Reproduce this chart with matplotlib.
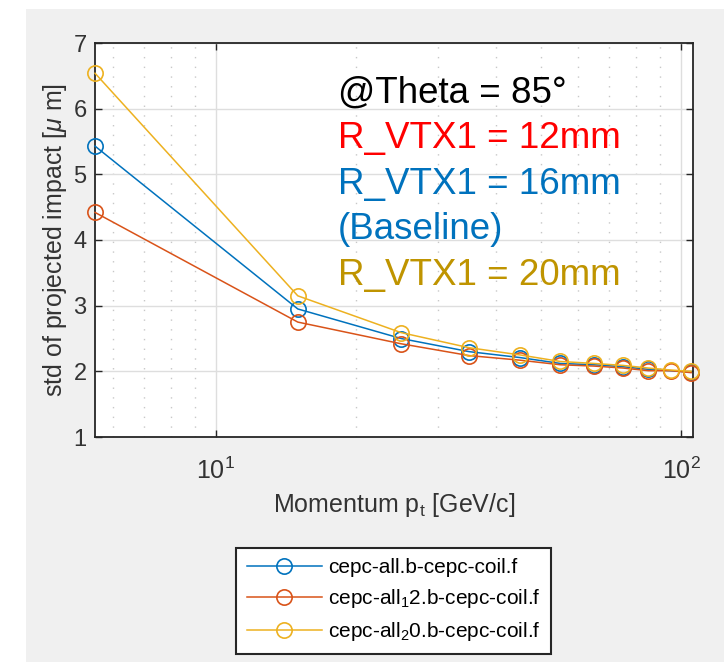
import numpy as np
import matplotlib.pyplot as plt
from matplotlib.patches import Rectangle

plt.rcParams['font.family'] = ['Liberation Sans', 'DejaVu Sans']
plt.rcParams['mathtext.fontset'] = 'custom'
plt.rcParams['mathtext.rm'] = 'Liberation Sans'
plt.rcParams['mathtext.it'] = 'Liberation Sans:italic'
plt.rcParams['mathtext.bf'] = 'Liberation Sans:bold'

# transverse momentum points [GeV/c]
p_t = [5.5, 15, 25, 35, 45, 55, 65, 75, 85, 95, 105]
p_t_16mm = [5.5, 15, 25, 35, 45, 55, 65, 75, 85, 105]

# std of projected impact [um] for each inner vertex radius
std_16mm = [5.43, 2.95, 2.50, 2.30, 2.21, 2.12, 2.10, 2.07, 2.03, 1.99]
std_12mm = [4.42, 2.75, 2.42, 2.24, 2.17, 2.10, 2.08, 2.05, 2.01, 2.01, 1.98]
std_20mm = [6.54, 3.15, 2.59, 2.36, 2.25, 2.15, 2.12, 2.09, 2.05, 2.02, 2.00]

labels = ["cepc-all.b-cepc-coil.f",
          r"cepc-all$_{\mathregular{1}}$2.b-cepc-coil.f",
          r"cepc-all$_{\mathregular{2}}$0.b-cepc-coil.f"]

annotations = [("@Theta = 85°", "black"),
               ("R_VTX1 = 12mm", "#ff0000"),
               ("R_VTX1 = 16mm", "#0072bd"),
               ("(Baseline)", "#0072bd"),
               ("R_VTX1 = 20mm", "#bf9400")]

W, H = 724, 662
fig = plt.figure(figsize=(W / 100, H / 100), dpi=100, facecolor="white")
fig.patches.append(Rectangle((26 / W, 0), 1, 1 - 9 / H, transform=fig.transFigure,
                             facecolor="#f0f0f0", edgecolor="none", zorder=-10))

ax = fig.add_axes([95 / W, 1 - 437 / H, 598 / W, 394 / H])
ax.set_facecolor("white")

series = [(p_t_16mm, std_16mm, "#0072bd"),
          (p_t, std_12mm, "#d95319"),
          (p_t, std_20mm, "#edb120")]
for (x, y, c), lab in zip(series, labels):
    ax.plot(x, y, color=c, lw=1.1, marker="o", ms=11, mfc="none", mec=c,
            mew=1.2, label=lab, clip_on=False, zorder=3)

ax.set_xscale("log")
ax.set_xlim(p_t[0], 106)
ax.set_ylim(1, 7)
ax.set_xticks([10, 100])
ax.set_xticklabels([r"$10^{1}$", r"$10^{2}$"])
ax.set_xticks([6, 7, 8, 9, 20, 30, 40, 50, 60, 70, 80, 90], minor=True)
ax.set_xticklabels([], minor=True)
ax.set_yticks(range(1, 8))

ax.grid(True, which="major", color="#dedede", lw=1.0, ls="-")
ax.grid(True, which="minor", axis="x", color="#c8c8c8", lw=1.0, ls=(0, (1, 6)))
ax.set_axisbelow(True)

for s in ax.spines.values():
    s.set_color("#262626")
    s.set_linewidth(1.3)
ax.tick_params(which="major", direction="in", length=5, width=1.0, color="#262626",
               labelcolor="#333333", top=True, right=True)
ax.tick_params(axis="x", which="major", labelsize=18, pad=15)
ax.tick_params(axis="y", which="major", labelsize=17, pad=6)
ax.tick_params(which="minor", length=0)

ax.set_xlabel(r"Momentum p$_{\mathregular{t}}$ [GeV/c]", fontsize=18, color="#333333", labelpad=5)
ax.set_ylabel(r"std of projected impact [$\mu$ m]", fontsize=18, color="#333333", labelpad=3)

# annotation block in the upper right
for i, (txt, col) in enumerate(annotations):
    ax.text(0.406, 0.848 - i * 0.1155, txt, color=col, fontsize=26.5,
            transform=ax.transAxes, va="baseline", ha="left")

leg = fig.legend(loc="upper center", bbox_to_anchor=(393.5 / W, 1 - 548 / H),
                 borderaxespad=0, fontsize=15, handlelength=3.6, handletextpad=0.3,
                 labelspacing=0.48, borderpad=0.5, fancybox=False, framealpha=1,
                 edgecolor="#262626")
leg.get_frame().set_linewidth(1.5)

fig.savefig("out.png", dpi=100, facecolor=fig.get_facecolor())
